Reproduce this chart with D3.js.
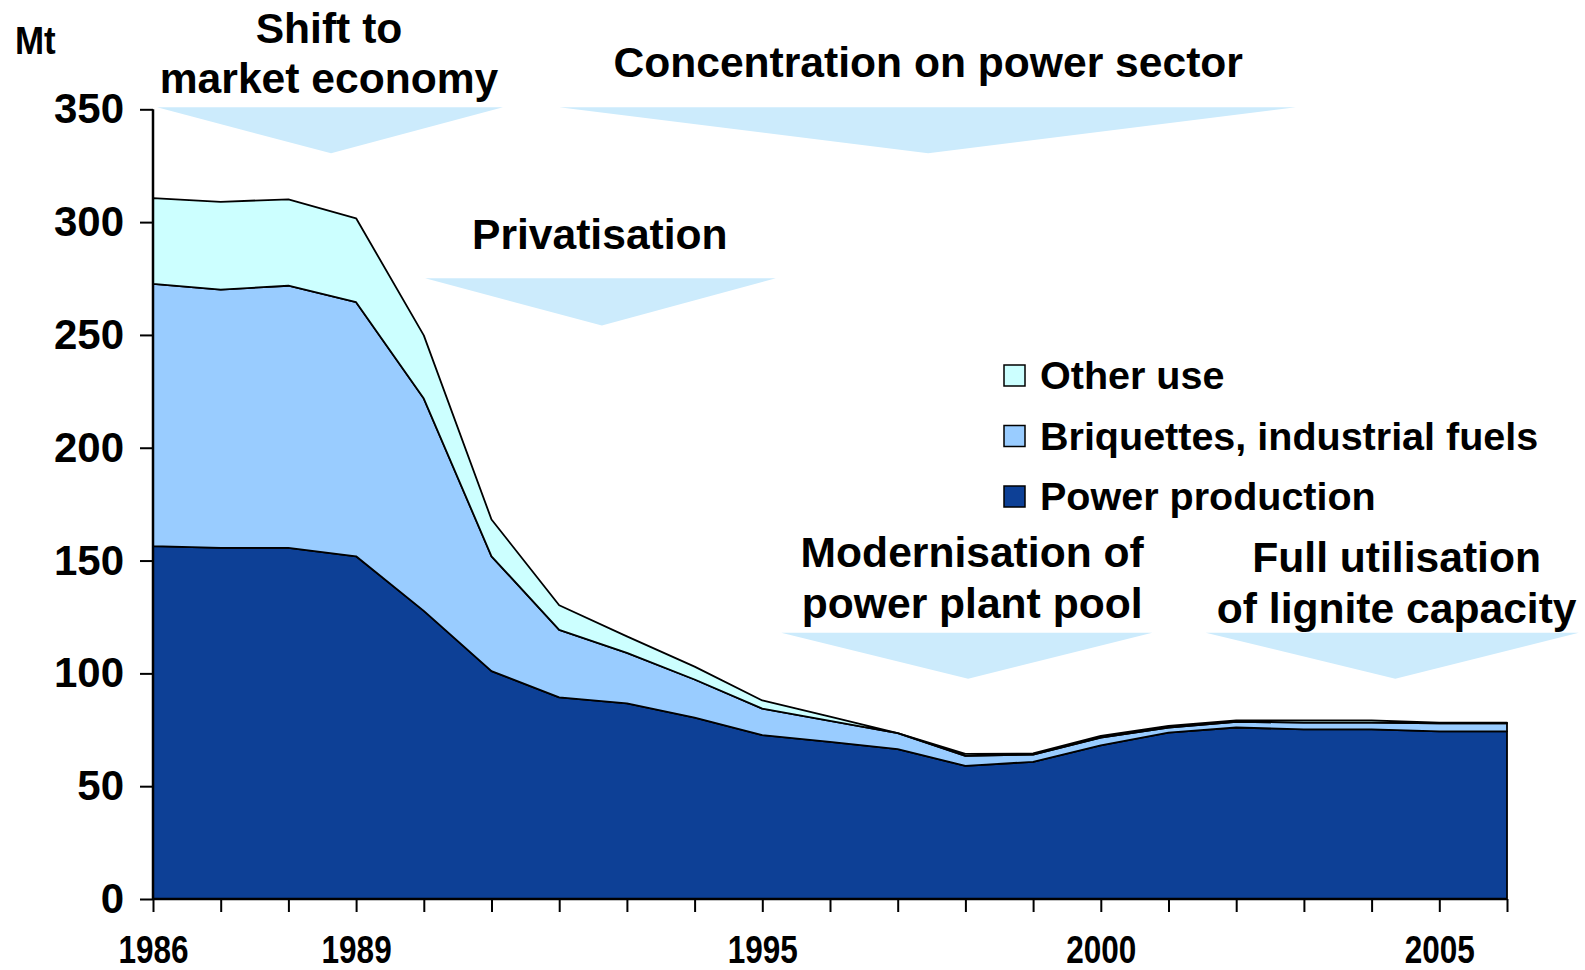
<!DOCTYPE html>
<html>
<head>
<meta charset="utf-8">
<script src="https://cdn.jsdelivr.net/npm/d3@7"></script>
<style>
  body { margin: 0; background: #fff; }
  text { font-family: "Liberation Sans", Arial, sans-serif; font-weight: bold; fill: #000; }
</style>
</head>
<body>
<script>
'use strict';

// lignite use in Mt
const years = [1986, 1987, 1988, 1989, 1990, 1991, 1992, 1993, 1994, 1995, 1996,
               1997, 1998, 1999, 2000, 2001, 2002, 2003, 2004, 2005, 2006]
const power = [156.4, 155.6, 155.6, 151.9, 127.7, 101.0, 89.4, 86.7, 80.4, 72.6, 69.6,
               66.4, 59.0, 60.8, 68.1, 73.7, 76.0, 75.2, 75.2, 74.3, 74.3]
const briquettes = [116.2, 114.5, 116.2, 112.6, 94.1, 50.9, 29.9, 22.4, 16.9, 11.8, 9.3,
                    7.1, 4.4, 3.2, 3.4, 2.3, 2.5, 3.0, 3.0, 3.6, 3.6]
const other = [38.0, 38.9, 38.3, 37.2, 28.0, 16.3, 10.9, 7.3, 5.7, 3.6, 1.9,
               0.0, 0.9, 0.5, 0.8, 0.7, 0.7, 1.0, 1.0, 0.3, 0.3]

const seriesKeys = ["power", "briquettes", "other"]
const seriesNames = ["Power production", "Briquettes, industrial fuels", "Other use"]
const yTicks = [0, 50, 100, 150, 200, 250, 300, 350]
const xLabels = [1986, 1989, 1995, 2000, 2005]

// phase arrows: year span, apex year, Mt of top edge and apex, text lines
const phases = [
  { lines: ["Shift to", "market economy"], from: 1986.06, to: 1991.17, apex: 1988.63, center: 1988.6, top: 350.9, tip: 330.5, text: [379.3, 357.1] },
  { lines: ["Concentration on power sector"], from: 1992.0, to: 2002.88, apex: 1997.45, center: 1997.45, top: 350.9, tip: 330.5, text: [364.2] },
  { lines: ["Privatisation"], from: 1990.02, to: 1995.2, apex: 1992.63, center: 1992.6, top: 275.1, tip: 254.2, text: [287.9] },
  { lines: ["Modernisation of", "power plant pool"], from: 1995.28, to: 2000.76, apex: 1998.04, center: 1998.1, top: 118.0, tip: 97.6, text: [147.3, 124.7] },
  { lines: ["Full utilisation", "of lignite capacity"], from: 2001.55, to: 2007.06, apex: 2004.35, center: 2004.37, top: 118.0, tip: 97.6, text: [145.0, 122.4] }
]

const colors = {
  power: "#0D4096",
  briquettes: "#99CCFF",
  other: "#CCFFFF"
}

const m = {
  width: 1585,
  height: 970,
  left: 153,
  right: 1507,
  top: 109.3,
  bottom: 899
}

let svg = d3.select('body')
  .append('svg')
  .attr('width', m.width)
  .attr('height', m.height)

let xScale = d3.scaleLinear()
  .domain([1986, 2006])
  .range([m.left, m.right])

let yScale = d3.scaleLinear()
  .domain([0, 350])
  .range([m.bottom, m.top])

drawPhases()
drawAreas()
drawAxes()
drawLegend()


function drawAreas() {
  let rows = years.map((yr, i) => ({
    year: yr,
    power: power[i],
    briquettes: briquettes[i],
    other: other[i]
  }))

  let stacked = d3.stack().keys(seriesKeys)(rows)

  let area = d3.area()
    .x(d => xScale(d.data.year))
    .y0(d => yScale(d[0]))
    .y1(d => yScale(d[1]))

  svg.selectAll('.layer')
    .data(stacked)
    .enter().append('path')
      .attr('class', 'layer')
      .attr('d', area)
      .style('fill', d => colors[d.key])
      .style('stroke', '#000')
      .style('stroke-width', 1.8)
      .style('stroke-linejoin', 'round')
}


function drawPhases() {
  let g = svg.append('g').attr('class', 'phases')

  phases.forEach(p => {
    let pts = [
      [xScale(p.from), yScale(p.top)],
      [xScale(p.to), yScale(p.top)],
      [xScale(p.apex), yScale(p.tip)]
    ]
    g.append('path')
      .attr('d', d3.line()(pts) + 'Z')
      .style('fill', '#CCEBFC')

    p.lines.forEach((line, i) => {
      g.append('text')
        .attr('x', xScale(p.center))
        .attr('y', yScale(p.text[i]))
        .attr('text-anchor', 'middle')
        .style('font-size', '42.6px')
        .text(line)
    })
  })
}


function drawAxes() {
  let xAxis = d3.axisBottom(xScale)
    .tickValues(years)
    .tickSize(13)
    .tickPadding(24)
    .tickFormat(d => xLabels.includes(d) ? d : "")

  let gx = svg.append('g')
    .attr('transform', 'translate(0,' + m.bottom + ')')
    .call(xAxis)
  gx.select('.domain').remove()
  gx.selectAll('line').style('stroke', '#000').style('stroke-width', 2)
  gx.selectAll('text')
    .style('font-size', '38px')
    .attr('transform', 'scale(0.83,1)')

  svg.append('line')
    .attr('x1', m.left).attr('x2', m.right)
    .attr('y1', m.bottom).attr('y2', m.bottom)
    .style('stroke', '#000')
    .style('stroke-width', 2.5)

  let yAxis = d3.axisLeft(yScale)
    .tickValues(yTicks)
    .tickSize(13)
    .tickPadding(16)
    .tickFormat(d3.format('d'))

  let gy = svg.append('g')
    .attr('transform', 'translate(' + m.left + ',0)')
    .call(yAxis)
  gy.select('.domain').remove()
  gy.selectAll('line').style('stroke', '#000').style('stroke-width', 2)
  gy.selectAll('text').style('font-size', '42px')

  svg.append('line')
    .attr('x1', m.left).attr('x2', m.left)
    .attr('y1', m.top).attr('y2', m.bottom)
    .style('stroke', '#000')
    .style('stroke-width', 2.5)

  svg.append('text')
    .attr('transform', 'translate(15,54) scale(0.92,1)')
    .style('font-size', '38px')
    .text('Mt')
}


function drawLegend() {
  // top to bottom: other, briquettes, power
  let order = seriesKeys.slice().reverse()
  let names = seriesNames.slice().reverse()

  let legend = svg.selectAll('.legend')
    .data(order)
    .enter().append('g')
      .attr('class', 'legend')
      .attr('transform', (d, i) => 'translate(1004,' + (375 + i * 60.5) + ')')

  legend.append('rect')
    .attr('x', 0)
    .attr('y', -10)
    .attr('width', 21)
    .attr('height', 21)
    .style('fill', d => colors[d])
    .style('stroke', '#000')
    .style('stroke-width', 1.5)

  legend.append('text')
    .attr('x', 36)
    .attr('y', 14)
    .style('font-size', '39.5px')
    .text((d, i) => names[i])
}
</script>
</body>
</html>
